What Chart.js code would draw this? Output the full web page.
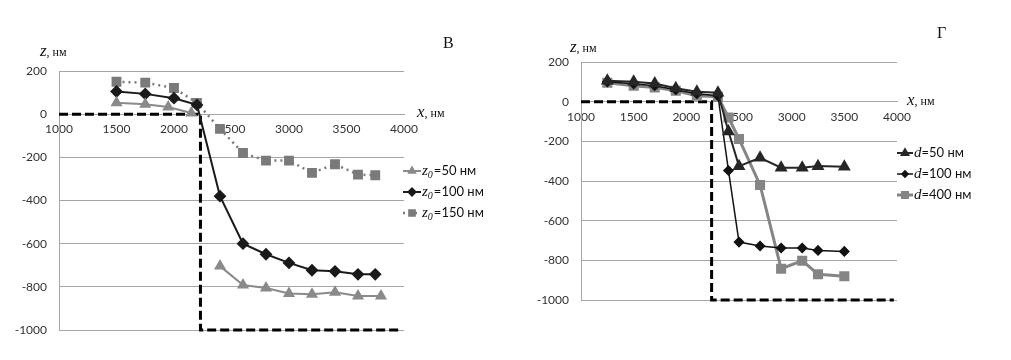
<!DOCTYPE html>
<html>
<head>
<meta charset="UTF-8">
<title>Профили z(x), панели В и Г</title>
<script src="https://cdn.jsdelivr.net/npm/chart.js"></script>
<style>
  body { margin: 0; background: #fff; }
  #wrap { position: relative; width: 1011px; height: 360px; }
  canvas { position: absolute; top: 0; }
  #grafB { left: 0; }
  #grafG { left: 520px; }
</style>
</head>
<body>
<div id="wrap">
  <canvas id="grafB" width="520" height="360"></canvas>
  <canvas id="grafG" width="491" height="360"></canvas>
</div>
<script>
// ---- панель В ----
const xB = [1500, 1750, 2000, 2200, 2400, 2600, 2800, 3000, 3200, 3400, 3600, 3750];
const z100 = [105, 94, 74, 43, -380, -600, -649, -689, -723, -728, -742, -742];
const z150 = [150, 146, 121, 52, -68, -180, -215, -215, -272, -232, -280, -283];
const xB50 = [1500, 1750, 1950, 2150, 2300, 2400, 2600, 2800, 3000, 3200, 3400, 3600, 3800];
const z50 = [53, 46, 33, 5, null, -704, -792, -805, -831, -834, -825, -842, -842];
const stepBx = [1000, 2230, 2230, 3950];
const stepBy = [0, 0, -1000, -1000];

// ---- панель Г ----
const xG = [1250, 1500, 1700, 1900, 2100, 2300, 2400, 2500, 2700, 2900, 3100, 3250, 3500];
const d50 = [105, 100, 92, 68, 50, 45, -150, -325, -283, -333, -333, -325, -328];
const d100 = [100, 90, 80, 60, 40, 30, -347, -708, -728, -738, -738, -750, -755];
const d400 = [95, 80, 72, 55, 30, 25, -80, -188, -420, -842, -802, -870, -880];
const stepGx = [1000, 2240, 2240, 3970];
const stepGy = [0, 0, -1000, -1000];

const yTicks = [-1000, -800, -600, -400, -200, 0, 200];
const xTicks = [1000, 1500, 2000, 2500, 3000, 3500, 4000];

function pts(xs, ys) {
  return xs.map((x, i) => ({ x: x, y: ys[i] }));
}

// подписи осей, буква панели и легенда (как в Excel: линия + маркер)
const decor = {
  id: 'decor',
  afterDraw(chart, args, o) {
    const ctx = chart.ctx;
    ctx.save();
    ctx.fillStyle = '#111';
    ctx.textBaseline = 'middle';
    ctx.textAlign = 'left';

    axisTitle(ctx, 'z', o.zTitle[0], o.zTitle[1]);
    axisTitle(ctx, 'x', o.xTitle[0], o.xTitle[1]);

    ctx.font = '16px "Liberation Serif"';
    ctx.fillText(o.panel, o.panelPos[0], o.panelPos[1]);

    let y = o.legendY;
    chart.data.datasets.forEach(ds => {
      if (!ds.legendText) return;
      const x0 = o.legendX;
      ctx.strokeStyle = ds.borderColor;
      ctx.lineWidth = ds.borderWidth;
      ctx.setLineDash(ds.borderDash || []);
      ctx.beginPath();
      ctx.moveTo(x0, y);
      ctx.lineTo(x0 + o.sampleW, y);
      ctx.stroke();
      ctx.setLineDash([]);
      ctx.fillStyle = ds.pointBackgroundColor;
      ctx.strokeStyle = ds.pointBackgroundColor;
      Chart.helpers.drawPoint(ctx, {
        pointStyle: ds.pointStyle, radius: ds.pointRadius * 0.7,
        rotation: 0, borderWidth: 1
      }, x0 + o.sampleW / 2, y);

      let tx = x0 + o.sampleW + 1;
      ctx.fillStyle = '#111';
      ctx.font = 'italic 15px "Liberation Serif"';
      ctx.fillText(o.symbol, tx, y);
      tx += ctx.measureText(o.symbol).width;
      if (o.sub) {
        ctx.font = 'italic 10px "Liberation Serif"';
        ctx.fillText('0', tx, y + 4);
        tx += ctx.measureText('0').width + 1;
      }
      ctx.font = '13px Lato';
      ctx.fillText(ds.legendText, tx, y);
      y += o.legendDy;
    });
    ctx.restore();
  }
};

function axisTitle(ctx, v, x, y) {
  ctx.font = 'italic 17px "Liberation Serif"';
  ctx.fillText(v, x, y);
  const w = ctx.measureText(v).width;
  ctx.font = '12px "Liberation Serif"';
  ctx.fillText(', нм', x + w, y + 1);
}

function makeChart(id, datasets, axisLeft, padding, decorOpts) {
  return new Chart(document.getElementById(id), {
    type: 'scatter',
    data: { datasets: datasets },
    options: {
      responsive: false,
      animation: false,
      layout: { padding: padding },
      plugins: {
        legend: { display: false },
        tooltip: { enabled: false },
        decor: decorOpts
      },
      scales: {
        x: {
          type: 'linear',
          position: { y: 0 },
          min: 1000, max: 4000,
          afterBuildTicks: s => { s.ticks = xTicks.map(v => ({ value: v })); },
          afterFit: s => { s.height = 0; },
          grid: { display: true, color: 'rgba(0,0,0,0)', drawTicks: false },
          border: { display: true, color: '#a6a6a6', width: 1 },
          ticks: { font: { family: 'Lato', size: 12 }, color: '#333', padding: 8, maxRotation: 0,
                   callback: v => String(v) }
        },
        y: {
          min: -1000, max: 200,
          afterBuildTicks: s => { s.ticks = yTicks.map(v => ({ value: v })); },
          afterFit: s => { s.width = axisLeft; },
          grid: { color: '#a6a6a6', lineWidth: 1, drawTicks: false },
          border: { display: true, color: '#a6a6a6', width: 1 },
          ticks: { font: { family: 'Lato', size: 12 }, color: '#333', padding: 12,
                   callback: v => String(v) }
        }
      }
    },
    plugins: [decor]
  });
}

const stepStyle = {
  borderColor: '#000', borderWidth: 3, borderDash: [9, 4],
  pointRadius: 0, showLine: true, fill: false, clip: false
};

makeChart('grafB', [
  { label: 'z0=50 нм', legendText: '=50 нм', data: pts(xB50, z50), showLine: true, spanGaps: false,
    borderColor: '#8a8a8a', borderWidth: 2, pointStyle: 'triangle', pointRadius: 5,
    pointBackgroundColor: '#8a8a8a', pointBorderColor: '#8a8a8a' },
  { label: 'z0=100 нм', legendText: '=100 нм', data: pts(xB, z100), showLine: true,
    borderColor: '#1a1a1a', borderWidth: 2, pointStyle: 'rectRot', pointRadius: 5,
    pointBackgroundColor: '#1a1a1a', pointBorderColor: '#1a1a1a' },
  { label: 'z0=150 нм', legendText: '=150 нм', data: pts(xB, z150), showLine: true,
    borderColor: '#7a7a7a', borderWidth: 2.5, borderDash: [2, 4], pointStyle: 'rect', pointRadius: 5.2,
    pointBackgroundColor: '#7a7a7a', pointBorderColor: '#7a7a7a' },
  Object.assign({ label: 'ступень', data: pts(stepBx, stepBy) }, stepStyle)
], 59, { left: 0, top: 71, right: 116, bottom: 30 }, {
  zTitle: [40, 52], xTitle: [417, 113], panel: 'В', panelPos: [443, 44],
  legendX: 403, legendY: 171, legendDy: 21, sampleW: 18, symbol: 'z', sub: true
});

makeChart('grafG', [
  { label: 'd=50 нм', legendText: '=50 нм', data: pts(xG, d50), showLine: true,
    borderColor: '#262626', borderWidth: 2, pointStyle: 'triangle', pointRadius: 5.5,
    pointBackgroundColor: '#262626', pointBorderColor: '#262626' },
  { label: 'd=100 нм', legendText: '=100 нм', data: pts(xG, d100), showLine: true,
    borderColor: '#111', borderWidth: 1.5, pointStyle: 'rectRot', pointRadius: 4.5,
    pointBackgroundColor: '#111', pointBorderColor: '#111' },
  { label: 'd=400 нм', legendText: '=400 нм', data: pts(xG, d400), showLine: true,
    borderColor: '#858585', borderWidth: 3, pointStyle: 'rect', pointRadius: 5,
    pointBackgroundColor: '#858585', pointBorderColor: '#858585' },
  Object.assign({ label: 'ступень', data: pts(stepGx, stepGy) }, stepStyle)
], 61, { left: 0, top: 62, right: 114, bottom: 60 }, {
  zTitle: [50, 48], xTitle: [387, 101], panel: 'Г', panelPos: [417, 34],
  legendX: 377, legendY: 153, legendDy: 21, sampleW: 16, symbol: 'd', sub: false
});
</script>
</body>
</html>
